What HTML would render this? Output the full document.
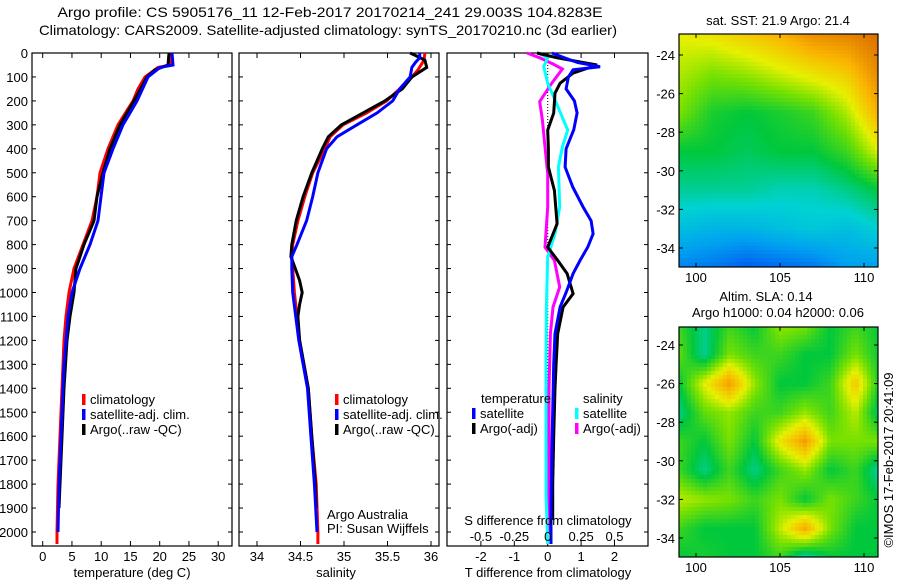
<!DOCTYPE html>
<html><head><meta charset="utf-8"><style>
html,body{margin:0;padding:0;background:#fff;}
svg{display:block;font-family:"Liberation Sans",sans-serif;}
</style></head><body>
<svg id="fig" width="900" height="580" viewBox="0 0 900 580" xmlns="http://www.w3.org/2000/svg">
<rect width="900" height="580" fill="#fff"/>
<text x="330" y="17" font-size="14" text-anchor="middle" textLength="545" lengthAdjust="spacingAndGlyphs">Argo profile: CS 5905176_11 12-Feb-2017 20170214_241 29.003S 104.8283E</text>
<text x="328" y="35" font-size="14" text-anchor="middle" textLength="578" lengthAdjust="spacingAndGlyphs">Climatology: CARS2009. Satellite-adjusted climatology: synTS_20170210.nc (3d earlier)</text>
<g id="p1"></g>
<g id="p2"></g>
<g id="p3"></g>
<g id="m1"></g>
<g id="m2"></g>
<text transform="translate(893,460) rotate(-90)" font-size="13" text-anchor="middle">©IMOS 17-Feb-2017 20:41:09</text>
</svg>
<script>
// ---- data ----
const tDepthRed = [0,50,60,100,150,200,300,400,500,600,700,800,900,1000,1100,1200,1300,1400,1600,1800,2000,2050];
const tempClim = [21.76,21.93,19.71,17.49,16.29,15.44,12.87,11.16,9.79,9.28,8.43,6.89,5.35,4.50,3.98,3.64,3.47,3.30,2.96,2.61,2.44,2.44];
const tDepthBlue = [0,50,60,100,200,300,400,500,600,700,800,900,1000,1100,1200,1300,1400,1600,1800,2000];
const tempSat = [22.10,22.27,20.05,18.00,16.12,13.73,12.02,10.48,9.97,9.45,8.09,6.37,5.01,4.32,3.98,3.64,3.47,3.13,2.79,2.62];
const tDepthArgo = [0,50,70,100,200,300,400,500,600,700,800,850,900,1000,1100,1200,1400,1600,1800,1900];
const tempArgo = [21.59,21.42,19.2,17.83,15.61,13.21,11.50,10.31,9.28,8.77,7.06,6.37,5.69,5.35,4.67,4.15,3.64,3.30,2.96,2.79];

const sDepthRed = [0,30,70,100,150,200,250,300,350,400,500,600,700,800,850,900,1000,1200,1400,1600,1800,2000,2050];
const salClim = [35.93,35.92,35.85,35.78,35.64,35.49,35.26,34.99,34.84,34.78,34.64,34.55,34.47,34.41,34.40,34.41,34.43,34.49,34.59,34.63,34.68,34.70,34.70];
const sDepthBlue = [0,20,40,60,100,150,200,250,300,350,400,500,600,700,800,850,900,1000,1200,1400,1600,1800,2000];
const salSat = [35.87,35.87,35.82,35.78,35.76,35.64,35.56,35.38,35.15,34.92,34.80,34.70,34.64,34.57,34.46,34.40,34.40,34.41,34.48,34.58,34.62,34.66,34.69];
const sDepthArgo = [0,10,30,60,100,150,200,250,300,350,400,500,600,700,800,850,900,950,1000,1050,1100,1200,1400,1600,1800,1900];
const salArgo = [35.76,35.82,35.93,35.95,35.78,35.67,35.47,35.22,34.97,34.82,34.75,34.63,34.53,34.45,34.40,34.39,34.44,34.49,34.52,34.49,34.47,34.49,34.59,34.63,34.67,34.68];

const dDepthSatT = [0,20,40,57,70,100,150,200,250,320,400,476,560,643,700,755,810,866,921,1000,1061,1172,1300,1500,1700,1900,2050];
const dTempSat = [0.13,0.5,0.9,1.57,0.76,0.62,0.55,0.8,0.88,0.78,0.55,0.52,0.75,1.06,1.3,1.36,1.2,0.97,0.76,0.55,0.37,0.22,0.18,0.15,0.12,0.1,0.1];
const dDepthArgoT = [0,20,50,84,126,168,251,322,400,476,574,713,811,866,921,1005,1061,1172,1300,1400,1600,1800,1950];
const dTempArgo = [-0.32,0.28,1.48,0.76,0.37,0.22,0.18,0,0.02,0.02,0.2,0.28,0,0.3,0.58,0.76,0.46,0.3,0.25,0.22,0.18,0.15,0.15];
const dDepthSatS = [0,20,57,126,196,322,392,476,643,755,852,1061,1300,1600,1850,2050];
const dSalSat = [-0.07,0,-0.03,0,0.055,0.15,0.11,0.08,0.09,0.055,0,-0.01,-0.013,-0.013,-0.012,0];
const dDepthArgoS = [0,20,46,67,126,203,280,392,503,643,811,866,977,1061,1172,1400,1700,2000];
const dSalArgo = [-0.155,-0.06,0.04,0.11,0.03,-0.06,-0.04,-0.02,0,0,-0.02,0.05,0.09,0.04,0.02,0.01,0.01,0.01];

const depthTicks = [0,100,200,300,400,500,600,700,800,900,1000,1100,1200,1300,1400,1500,1600,1700,1800,1900,2000];
const tempTicks = [0,5,10,15,20,25,30];
const salTicks = [34,34.5,35,35.5,36];
const salTickLabels = ["34","34.5","35","35.5","36"];
const dTTicks = [-2,-1,0,1,2];
const dSTicks = [-0.5,-0.25,0,0.25,0.5];
const dSTickLabels = ["-0.5","-0.25","0","0.25","0.5"];
const lonTicks = [100,105,110];
const latTicks = [-24,-26,-28,-30,-32,-34];

const sstLons = [99,101,103,105,107,109,111];
const sstLats = [-23,-25,-27,-29,-31,-33,-35];
const sstGrid = [
 [0.68,0.70,0.74,0.78,0.84,0.86,0.90],
 [0.64,0.60,0.62,0.66,0.70,0.74,0.86],
 [0.60,0.52,0.50,0.52,0.55,0.64,0.80],
 [0.50,0.50,0.48,0.50,0.50,0.55,0.68],
 [0.44,0.44,0.44,0.42,0.42,0.45,0.50],
 [0.36,0.34,0.34,0.36,0.38,0.36,0.40],
 [0.26,0.24,0.20,0.22,0.24,0.30,0.30]];
const slaLons = [99,100.5,102,103.5,105,106.5,108,109.5,111];
const slaLats = [-23,-24.5,-26,-27.5,-29,-30.5,-32,-33.5,-35];
const slaGrid = [
 [0.55,0.45,0.55,0.5,0.62,0.6,0.5,0.55,0.5],
 [0.58,0.44,0.6,0.55,0.55,0.5,0.5,0.6,0.5],
 [0.5,0.68,0.82,0.62,0.5,0.5,0.55,0.75,0.5],
 [0.45,0.58,0.62,0.55,0.55,0.62,0.55,0.65,0.45],
 [0.55,0.5,0.6,0.5,0.7,0.82,0.6,0.6,0.6],
 [0.55,0.45,0.55,0.45,0.55,0.62,0.5,0.55,0.42],
 [0.65,0.62,0.6,0.55,0.6,0.5,0.6,0.55,0.5],
 [0.55,0.5,0.5,0.5,0.65,0.8,0.6,0.5,0.5],
 [0.5,0.52,0.5,0.5,0.55,0.42,0.5,0.5,0.5]];

// ---- helpers ----
const NS="http://www.w3.org/2000/svg";
function mk(parent,tag,attrs,text){const e=document.createElementNS(NS,tag);for(const k in attrs)e.setAttribute(k,attrs[k]);if(text!==undefined)e.textContent=text;parent.appendChild(e);return e;}
const TOP=53, BOT=546;
const yD = d => 53 + d*0.2395;
const xT = t => 42.7 + 5.85*t;
const xS = s => 344 + 87*(s-35);
const xDT = v => 547.7 + 33.4*v;
const xDS = v => 547.7 + 133.6*v;

function frame(g,x0,x1,leftLabels){
  const r=mk(g,'rect',{x:x0,y:TOP,width:x1-x0,height:BOT-TOP,fill:'none',stroke:'#000','stroke-width':1.2});
  
  
  depthTicks.forEach(d=>{
    const y=yD(d);
    mk(g,'line',{x1:x0,x2:x0+4,y1:y,y2:y,stroke:'#000'});
    mk(g,'line',{x1:x1-4,x2:x1,y1:y,y2:y,stroke:'#000'});
    if(leftLabels){
      const t=mk(g,'text',{x:28,y:y+5,'font-size':13,'text-anchor':'end'},String(d));
      
      
    }
  });
}
function xticks(g,vals,labels,fx,ly){
  vals.forEach((v,i)=>{
    const x=fx(v);
    mk(g,'line',{x1:x,x2:x,y1:TOP,y2:TOP+5,stroke:'#000'});
    mk(g,'line',{x1:x,x2:x,y1:BOT-5,y2:BOT,stroke:'#000'});
    const t=mk(g,'text',{x:x,y:ly,'font-size':13,'text-anchor':'middle'},labels[i]);
    
    
  });
}
function line(g,depths,vals,fx,color,w,name){
  const pts=depths.map((d,i)=>fx(vals[i]).toFixed(1)+','+yD(d).toFixed(1)).join(' ');
  const p=mk(g,'polyline',{points:pts,fill:'none',stroke:color,'stroke-width':w,'stroke-linejoin':'miter'});
  
  
}
function legend(g,x,y,items){
  items.forEach((it,i)=>{
    const yy=y+i*15;
    mk(g,'rect',{x:x,y:yy-10,width:3.5,height:11,fill:it[0]});
    const t=mk(g,'text',{x:x+8,y:yy,'font-size':13},it[1]);
    
    
  });
}
function txt(g,x,y,s,anchor,name){
  const t=mk(g,'text',{x:x,y:y,'font-size':13,'text-anchor':anchor||'start'},s);
  
  
}

// Panel 1
const p1=document.getElementById('p1');
frame(p1,32,232,true);
xticks(p1,tempTicks,tempTicks.map(String),xT,561);
line(p1,tDepthRed,tempClim,xT,'#ff0000',3,'temp-climatology-line');
line(p1,tDepthArgo,tempArgo,xT,'#000000',3,'temp-argo-line');
line(p1,tDepthBlue,tempSat,xT,'#0000ff',3,'temp-satellite-line');
txt(p1,132,577,'temperature (deg C)','middle','x-axis-title-temperature');
legend(p1,82,404,[['#f00','climatology'],['#00f','satellite-adj. clim.'],['#000','Argo(..raw -QC)']]);

// Panel 2
const p2=document.getElementById('p2');
frame(p2,239,439,false);
xticks(p2,salTicks,salTickLabels,xS,561);
line(p2,sDepthRed,salClim,xS,'#ff0000',3,'sal-climatology-line');
line(p2,sDepthArgo,salArgo,xS,'#000000',3,'sal-argo-line');
line(p2,sDepthBlue,salSat,xS,'#0000ff',3,'sal-satellite-line');
txt(p2,336,577,'salinity','middle','x-axis-title-salinity');
legend(p2,335,404,[['#f00','climatology'],['#00f','satellite-adj. clim.'],['#000','Argo(..raw -QC)']]);
txt(p2,327,519,'Argo Australia','start','credit-argo-australia');
txt(p2,327,533,'PI: Susan Wijffels','start','credit-pi');

// Panel 3
const p3=document.getElementById('p3');
frame(p3,447,648,false);
xticks(p3,dTTicks,dTTicks.map(String),xDT,561);
mk(p3,'line',{x1:xDT(0),x2:xDT(0),y1:TOP,y2:BOT,stroke:'#000','stroke-dasharray':'1,2'});
line(p3,dDepthArgoS,dSalArgo,xDS,'#ff00ff',3,'sal-diff-argo-line');
line(p3,dDepthSatS,dSalSat,xDS,'#00ffff',3,'sal-diff-satellite-line');
line(p3,dDepthArgoT,dTempArgo,xDT,'#000000',3,'temp-diff-argo-line');
line(p3,dDepthSatT,dTempSat,xDT,'#0000ff',3,'temp-diff-satellite-line');
dSTicks.forEach((v,i)=>{txt(p3,xDS(v),541,dSTickLabels[i],'middle','s-tick-label');});
txt(p3,548,525,'S difference from climatology','middle','s-axis-title');
txt(p3,548,577,'T difference from climatology','middle','t-axis-title');
txt(p3,481,403,'temperature','start','legend-title-temperature');
txt(p3,583,403,'salinity','start','legend-title-salinity');
legend(p3,472,418,[['#00f','satellite'],['#000','Argo(-adj)']]);
legend(p3,575,418,[['#0ff','satellite'],['#f0f','Argo(-adj)']]);

// Maps
const cstops=[[0,[0,0,130]],[0.15,[0,60,240]],[0.3,[0,160,240]],[0.4,[0,210,210]],[0.5,[0,200,60]],[0.6,[120,225,0]],[0.68,[230,240,0]],[0.78,[250,180,0]],[0.9,[220,110,0]],[1,[150,0,0]]];
function cmap(v){
  v=Math.max(0,Math.min(1,v));
  for(let i=1;i<cstops.length;i++){
    if(v<=cstops[i][0]){
      const a=cstops[i-1],b=cstops[i],f=(v-a[0])/(b[0]-a[0]);
      const c=a[1].map((q,k)=>Math.round(q+(b[1][k]-q)*f));
      return 'rgb('+c.join(',')+')';
    }
  }
  return 'rgb(150,0,0)';
}
function sample(lons,lats,grid,lon,lat){
  let fi=(lats[0]-lat)/(lats[0]-lats[lats.length-1])*(lats.length-1);
  let fj=(lon-lons[0])/(lons[lons.length-1]-lons[0])*(lons.length-1);
  fi=Math.max(0,Math.min(lats.length-1.0001,fi));fj=Math.max(0,Math.min(lons.length-1.0001,fj));
  const i=Math.floor(fi),j=Math.floor(fj),a=fi-i,b=fj-j;
  return grid[i][j]*(1-a)*(1-b)+grid[i+1][j]*a*(1-b)+grid[i][j+1]*(1-a)*b+grid[i+1][j+1]*a*b;
}
function drawMap(g,y0,y1,latRef,lons,lats,grid,name){
  const x0=679,x1=878;
  const xL=lon=>696+(lon-100)*16.8;
  const yL=lat=>latRef+(-24-lat)*19.3;
  const cw=4,ch=4;
  for(let y=y0;y<y1;y+=ch){
    for(let x=x0;x<x1;x+=cw){
      const lon=100+(x+cw/2-696)/16.8, lat=-24-(y+ch/2-latRef)/19.3;
      mk(g,'rect',{x:x,y:y,width:Math.min(cw,x1-x)+0.3,height:Math.min(ch,y1-y)+0.3,fill:cmap(sample(lons,lats,grid,lon,lat))});
    }
  }
  const r=mk(g,'rect',{x:x0,y:y0,width:x1-x0,height:y1-y0,fill:'none',stroke:'#000','stroke-width':1.2});
  
  
  lonTicks.forEach(l=>{
    const x=xL(l);
    mk(g,'line',{x1:x,x2:x,y1:y0,y2:y0+4,stroke:'#000'});
    mk(g,'line',{x1:x,x2:x,y1:y1-4,y2:y1,stroke:'#000'});
    txt(g,x,y1+15,String(l),'middle','lon-tick-label');
  });
  latTicks.forEach(l=>{
    const y=yL(l);
    mk(g,'line',{x1:x0,x2:x0+4,y1:y,y2:y,stroke:'#000'});
    mk(g,'line',{x1:x1-4,x2:x1,y1:y,y2:y,stroke:'#000'});
    txt(g,675,y+5,String(l),'end','lat-tick-label');
  });
}
const m1=document.getElementById('m1');
drawMap(m1,34,267,55,sstLons,sstLats,sstGrid,'sst-map');
txt(m1,778,25,'sat. SST: 21.9 Argo: 21.4','middle','sst-map-title');
const m2=document.getElementById('m2');
drawMap(m2,327,557,345,slaLons,slaLats,slaGrid,'sla-map');
txt(m2,766,301,'Altim. SLA: 0.14','middle','sla-map-title');
txt(m2,778,317,'Argo h1000: 0.04 h2000: 0.06','middle','sla-map-subtitle');
</script>
</body></html>
